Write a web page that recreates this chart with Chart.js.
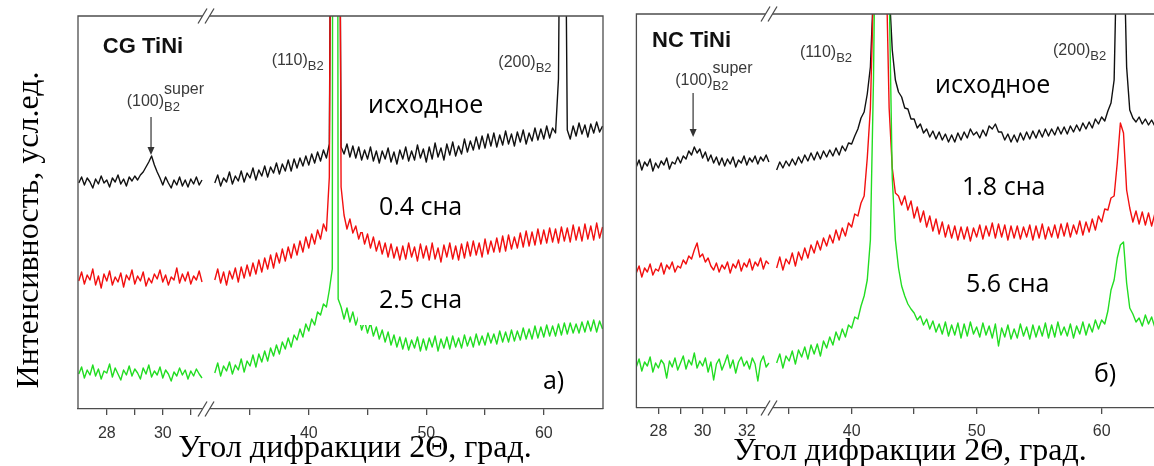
<!DOCTYPE html>
<html>
<head>
<meta charset="utf-8">
<script src="https://cdn.jsdelivr.net/npm/chart.js@4/dist/chart.umd.min.js"></script>
<style>
  html, body { margin: 0; padding: 0; background: #fff; width: 1154px; height: 466px; overflow: hidden; }
  #wrap { position: relative; width: 1154px; height: 466px; }
  canvas { position: absolute; top: 0; }
  #cg { left: 0; }
  #nc { left: 620px; }
</style>
</head>
<body>
<div id="wrap">
  <canvas id="cg" width="620" height="466"></canvas>
  <canvas id="nc" width="534" height="466"></canvas>
</div>
<script>
// angle grids (2theta, deg) of the two scan segments on each side of the axis break
function grid(from, to, step) {
  const out = [];
  for (let i = 0; from + i * step <= to + 1e-9; i++) out.push(+(from + i * step).toFixed(3));
  return out;
}
const cgAngleL = grid(27, 31.4, 0.1);
const cgAngleR = grid(32, 65, 0.25);
const ncAngleL = grid(27, 33, 0.125);
const ncAngleR = grid(34, 65, 0.25);

// ---- CG TiNi (panel a), intensity in arbitrary units, curves already offset ----
const cgBlackL = [226,232,224,231,227,221,230,225,233,226,229,222,231,227,234,225,230,223,232,228,
  233,229,234,237,242,247,253,244,237,231,224,232,226,221,229,224,232,223,229,222,230,225,232,224,229];
const cgRedL = [128,137,125,134,129,140,124,133,121,135,128,138,124,132,127,136,122,134,129,139,
  125,133,128,137,123,131,126,135,130,139,127,134,124,132,129,141,126,135,128,137,125,133,129,138,127];
const cgGreenL = [35,42,31,39,34,44,33,40,30,38,36,45,32,41,35,29,39,34,43,33,
  40,36,30,41,35,44,32,38,34,42,31,39,35,28,37,33,41,34,39,30,38,33,40,35,31];

const cgBlackR = [
  226,234,223,231, 227,237,225,233, 228,238,227,236, 231,241,229,239, 233,243,232,242,
  236,246,235,245, 238,249,238,250, 241,251,243,253, 244,255,246,257, 248,259,251,265,
  800,2500,800,262, 255,265,252,263, 251,262,249,259, 250,262,248,258, 246,258,250,261,
  247,257,245,259, 250,262,248,258, 249,264,251,260, 247,262,250,266, 252,261,249,265,
  254,267,253,263, 255,270,257,268, 259,272,260,273, 261,275,263,276, 262,274,264,278,
  265,275,263,277, 267,279,265,276, 268,281,269,280, 270,283,271,281, 276,330,700,650,
  279,270,283,273, 286,275,284,272, 285,276,287,277, 283];
const cgRedR = [
  129,140,126,137, 124,138,130,141, 127,142,131,144, 133,146,135,149, 137,151,140,154,
  141,156,146,160, 148,162,151,165, 154,168,157,172, 161,175,165,179, 170,185,178,232,
  900,2500,900,222, 194,180,190,176, 183,170,179,165, 175,161,172,158, 168,155,166,152,
  165,151,162,149, 163,150,166,152, 162,148,165,151, 163,149,166,150, 161,147,164,152,
  166,150,163,149, 165,151,167,153, 168,154,166,152, 170,155,168,157, 171,157,173,158,
  174,160,172,161, 176,162,178,163, 177,164,180,165, 179,166,181,167, 180,166,182,168,
  181,167,184,169, 182,168,185,170, 183,169,186,171, 182];
const cgGreenR = [
  36,46,33,43, 38,47,35,44, 39,50,37,48, 43,54,42,55, 47,58,48,61,
  53,64,55,67, 60,71,62,74, 69,80,72,85, 78,90,84,97, 94,105,102,119,
  140,3000,110,102, 90,101,87,97, 84,93,79,88, 76,86,73,82, 70,79,67,77,
  64,74,62,72, 60,71,59,69, 61,72,58,70, 59,71,62,73, 58,70,61,72,
  60,73,62,71, 61,74,63,72, 62,75,64,73, 64,76,66,75, 65,78,67,77,
  67,79,68,78, 69,81,70,80, 70,83,71,82, 72,84,73,83, 73,85,74,86,
  75,86,76,85, 76,87,77,88, 78,89,77,88, 80];

// ---- NC TiNi (panel b) ----
const ncBlackL = [241,248,238,246,242,249,237,245, 240,247,243,250,239,246,244,251,
  245,252,249,257,253,261,255,259, 250,256,247,253,245,251,243,250,
  242,249,244,251,241,248,245,252, 243,250,246,252,244,251,247,253, 246];
const ncRedL = [135,142,131,140,136,144,133,139, 137,145,134,143,139,146,136,142,
  140,148,144,152,149,158,165,151, 154,146,150,142,138,145,136,143,
  139,146,135,144,140,148,137,145, 141,149,138,146,142,150,139,147, 144];
const ncGreenL = [41,49,37,46,42,51,36,45, 40,48,44,30,47,41,50,38,
  45,52,39,48,43,55,40,47, 42,50,36,46,28,44,49,38,
  45,53,40,48,35,46,51,42, 47,39,50,44,27,46,52,41, 45];

const ncBlackR = [
  238,246,240,247, 242,249,243,251, 245,253,247,255, 248,256,249,257, 251,258,252,260,
  253,262,257,265, 264,272,279,290, 296,314,341,420, 700,950,950,700, 420,358,328,316,
  311,300,299,289, 289,280,284,275, 279,271,277,269, 276,268,274,266, 273,266,275,268,
  276,270,279,273, 276,270,278,272, 282,279,284,276, 276,268,274,266, 273,266,275,268,
  276,269,277,270, 278,271,279,272, 279,273,281,274, 281,274,282,276, 283,277,285,279,
  286,280,289,284, 291,287,297,305, 328,480,800,480, 341,298,290,286, 291,284,289,283,
  288,282,287,281, 286];
const ncRedR = [
  140,151,138,149, 144,155,142,156, 148,160,150,163, 155,167,158,170, 162,173,165,178,
  168,180,172,185, 181,194,192,205, 212,250,300,420, 800,950,900,450, 300,240,215,212,
  203,212,198,207, 190,201,186,197, 181,192,177,189, 174,186,171,183, 170,182,168,181,
  169,181,167,180, 171,183,169,182, 172,185,170,184, 171,183,168,182, 170,182,169,181,
  171,183,168,182, 170,184,169,181, 171,183,170,184, 172,185,171,183, 174,187,173,186,
  176,189,178,192, 186,199,198,210, 212,245,285,275, 218,200,186,197, 184,196,183,195,
  182,194,181,193, 183];
const ncGreenR = [
  45,54,40,52, 47,57,44,58, 51,61,49,63, 54,64,52,67, 60,71,63,76,
  68,79,71,83, 80,91,89,102, 112,128,168,330, 600,900,900,600, 420,230,168,140,
  122,112,104,99, 95,88,92,83, 89,79,87,76, 84,74,86,72, 83,73,85,70,
  84,72,86,74, 81,71,85,73, 82,70,84,62, 80,71,83,69, 79,70,84,72,
  81,69,83,71, 82,72,85,70, 83,71,86,73, 81,72,84,70, 82,74,86,73,
  84,76,88,79, 88,84,97,118, 128,150,163,166, 125,100,94,86, 90,82,93,84,
  91,81,92,83, 88];

// axis ticks
const cgTicks = [28, 29, 30, 31, 35, 40, 45, 50, 55, 60];
const cgTickLabels = ['28', '', '30', '', '', '40', '', '50', '', '60'];
const ncTicks = [28, 29, 30, 31, 32, 35, 40, 45, 50, 55, 60];
const ncTickLabels = ['28', '', '30', '', '32', '', '40', '', '50', '', '60'];

const yTitle = 'Интенсивность, усл.ед.';
const xTitle = 'Угол дифракции 2Θ, град.';

const AXIS = '#4d4d4d';
const SANS = '"Liberation Sans", Arial, sans-serif';
const NOTE = '"Open Sans", sans-serif';
const SERIF = '"Liberation Serif", "Times New Roman", serif';
const PEAK = '#3a3a3a';
const hkl = (main, sub) => [
  { t: main, font: '16px ' + SANS },
  { t: sub, font: '13px ' + SANS, dy: 5 }
];
const superLabel = [
  { t: '(100)', font: '16px ' + SANS },
  { t: 'super', font: '16px ' + SANS, dy: -12, stay: true },
  { t: 'B2', font: '13px ' + SANS, dy: 5 }
];
const sample = t => [{ t, font: '25px ' + NOTE, color: '#000' }];

const cgNotes = [
  { deg: 27.86, v: 356, parts: [{ t: 'CG TiNi', font: 'bold 22px ' + SANS, color: '#111' }] },
  { deg: 36.84, v: 344, parts: hkl('(110)', 'B2') },
  { deg: 56.13, v: 342, parts: hkl('(200)', 'B2') },
  { deg: 28.71, v: 303, parts: superLabel },
  { deg: 45.04, v: 296, parts: sample('исходное') },
  { deg: 45.97, v: 194, parts: sample('0.4 сна'), bg: [21, 10, 27, 17] },
  { deg: 45.97, v: 101, parts: sample('2.5 сна'), bg: [21, 10, 27, 17] },
  { deg: 59.93, v: 20, parts: sample('а)') }
];
const ncNotes = [
  { deg: 27.71, v: 361, parts: [{ t: 'NC TiNi', font: 'bold 22px ' + SANS, color: '#111' }] },
  { deg: 35.87, v: 351, parts: hkl('(110)', 'B2') },
  { deg: 56.11, v: 353, parts: hkl('(200)', 'B2') },
  { deg: 28.76, v: 323, parts: superLabel },
  { deg: 46.67, v: 315, parts: sample('исходное') },
  { deg: 48.83, v: 213, parts: sample('1.8 сна') },
  { deg: 49.15, v: 116, parts: sample('5.6 сна') },
  { deg: 59.39, v: 26, parts: sample('б)') }
];

const panels = [
  {
    id: 'cg', pad: { left: 78, right: 17, top: 16, bottom: 0 }, axisH: 57, tickPad: 9,
    uMin: 20.36, uMax: 65.04, vMax: 393, leftA: 22.81, leftK: 2.383, breakDeg: 31.7, breakU: 31.34,
    closed: true, ticks: cgTicks, tickLabels: cgTickLabels, notes: cgNotes,
    arrow: { deg: 29.58, from: 292, to: 254 },
    xTitleX: 355, xTitleY: 457, yTitle: true,
    angL: cgAngleL, angR: cgAngleR,
    curves: [[cgGreenL, cgGreenR], [cgRedL, cgRedR], [cgBlackL, cgBlackR]]
  },
  {
    id: 'nc', pad: { left: 16.4, right: 0, top: 14, bottom: 0 }, axisH: 58, tickPad: 8,
    uMin: 22.78, uMax: 64.19, vMax: 394, leftA: 24.54, leftK: 1.768, breakDeg: 33.5, breakU: 33.47,
    closed: false, ticks: ncTicks, tickLabels: ncTickLabels, notes: ncNotes,
    arrow: { deg: 29.57, from: 315, to: 271 },
    xTitleX: 290, xTitleY: 460, yTitle: false,
    angL: ncAngleL, angR: ncAngleR,
    curves: [[ncGreenL, ncGreenR], [ncRedL, ncRedR], [ncBlackL, ncBlackR]]
  }
];
const colors = ['#22dd22', '#f21010', '#111111'];

function breakMark(ctx, cx, cy) {
  ctx.fillStyle = '#fff';
  ctx.beginPath();
  ctx.moveTo(cx - 9, cy + 7.5); ctx.lineTo(cx, cy - 7.5);
  ctx.lineTo(cx + 7, cy - 7.5); ctx.lineTo(cx - 2, cy + 7.5);
  ctx.closePath(); ctx.fill();
  ctx.beginPath();
  ctx.moveTo(cx - 9, cy + 7.5); ctx.lineTo(cx, cy - 7.5);
  ctx.moveTo(cx - 2, cy + 7.5); ctx.lineTo(cx + 7, cy - 7.5);
  ctx.stroke();
}

function drawNote(ctx, n, x0, y0) {
  ctx.textAlign = 'left';
  ctx.textBaseline = 'alphabetic';
  if (n.bg) {
    let w = 0;
    n.parts.forEach(p => { ctx.font = p.font; if (!p.stay) w += ctx.measureText(p.t).width; });
    ctx.fillStyle = '#fff';
    ctx.fillRect(x0 - n.bg[0], y0 - n.bg[2], w + n.bg[0] + n.bg[1], n.bg[2] + n.bg[3]);
  }
  let x = x0;
  n.parts.forEach(p => {
    ctx.font = p.font;
    ctx.fillStyle = p.color || PEAK;
    ctx.fillText(p.t, x, y0 + (p.dy || 0));
    if (!p.stay) x += ctx.measureText(p.t).width;
  });
}

function decor(p) {
  return {
    id: 'decor',
    afterDraw(chart) {
      const { ctx, chartArea: a, scales: { x, y } } = chart;
      const X = d => x.getPixelForValue(p.toU(d));
      const Y = v => y.getPixelForValue(v);
      ctx.save();
      ctx.strokeStyle = AXIS;
      ctx.lineWidth = 1.3;
      ctx.beginPath();
      ctx.moveTo(a.left, a.bottom); ctx.lineTo(a.left, a.top); ctx.lineTo(a.right, a.top);
      if (p.closed) ctx.lineTo(a.right, a.bottom);
      ctx.stroke();
      const bx = x.getPixelForValue(p.breakU);
      breakMark(ctx, bx, a.top);
      breakMark(ctx, bx, a.bottom);

      // arrow to the superstructure reflection
      const ax = X(p.arrow.deg), y1 = Y(p.arrow.from), y2 = Y(p.arrow.to);
      ctx.strokeStyle = '#333'; ctx.fillStyle = '#333'; ctx.lineWidth = 1.2;
      ctx.beginPath(); ctx.moveTo(ax, y1); ctx.lineTo(ax, y2 - 7); ctx.stroke();
      ctx.beginPath(); ctx.moveTo(ax - 3.5, y2 - 8); ctx.lineTo(ax + 3.5, y2 - 8); ctx.lineTo(ax, y2); ctx.closePath(); ctx.fill();

      p.notes.forEach(n => drawNote(ctx, n, X(n.deg), Y(n.v)));

      ctx.fillStyle = '#000';
      ctx.font = '32px ' + SERIF;
      ctx.textAlign = 'center';
      ctx.textBaseline = 'alphabetic';
      ctx.fillText(xTitle, p.xTitleX, p.xTitleY);
      if (p.yTitle) {
        ctx.translate(38, 230);
        ctx.rotate(-Math.PI / 2);
        ctx.fillText(yTitle, 0, 0);
      }
      ctx.restore();
    }
  };
}

panels.forEach(p => {
  p.toU = d => (d < p.breakDeg ? p.leftA + p.leftK * (d - 28) : d);
  const datasets = p.curves.map((c, k) => {
    const pts = p.angL.map((d, i) => ({ x: p.toU(d), y: c[0][i] }));
    pts.push({ x: p.breakU, y: null });
    p.angR.forEach((d, i) => pts.push({ x: p.toU(d), y: c[1][i] }));
    return {
      data: pts,
      borderColor: colors[k],
      borderWidth: 1.4,
      borderJoinStyle: 'round',
      pointRadius: 0,
      tension: 0,
      fill: false,
      spanGaps: false,
      order: k + 1
    };
  });

  new Chart(document.getElementById(p.id), {
    type: 'line',
    data: { datasets },
    options: {
      responsive: false,
      animation: false,
      devicePixelRatio: 1,
      layout: { padding: p.pad },
      plugins: { legend: { display: false }, tooltip: { enabled: false } },
      scales: {
        x: {
          type: 'linear',
          min: p.uMin,
          max: p.uMax,
          bounds: 'data',
          afterBuildTicks: s => { s.ticks = p.ticks.map(d => ({ value: p.toU(d) })); },
          afterFit: s => { s.height = p.axisH; },
          ticks: {
            autoSkip: false,
            maxRotation: 0,
            padding: p.tickPad,
            color: '#333',
            font: { family: SANS, size: 16 },
            callback: (v, i) => p.tickLabels[i]
          },
          grid: { drawOnChartArea: false, drawTicks: true, tickLength: 6, color: AXIS, lineWidth: 1.3 },
          border: { display: true, color: AXIS, width: 1.3 }
        },
        y: { display: false, min: 0, max: p.vMax }
      }
    },
    plugins: [decor(p)]
  });
});
</script>
</body>
</html>
